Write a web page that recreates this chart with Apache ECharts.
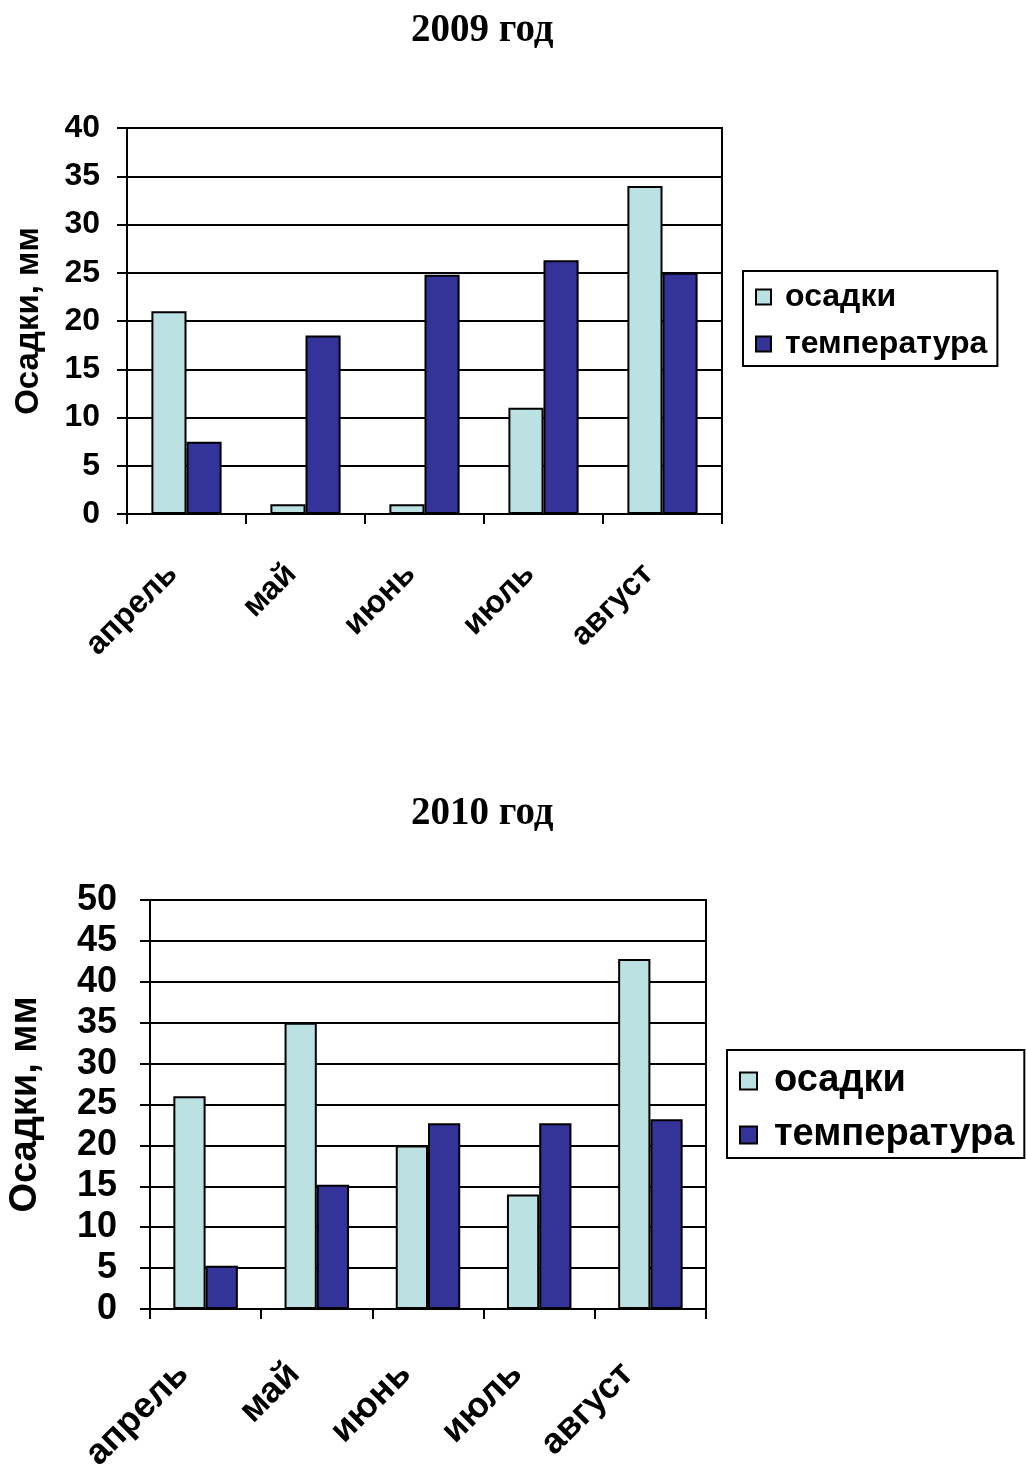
<!DOCTYPE html>
<html>
<head>
<meta charset="utf-8">
<script src="https://cdn.jsdelivr.net/npm/echarts@6/dist/echarts.min.js"></script>
<style>
  html, body { margin: 0; padding: 0; background: #fff; }
  #chart { width: 1026px; height: 1466px; }
</style>
</head>
<body>
<div id="chart"></div>
<script>
// Months shown on both charts
const months = ['апрель', 'май', 'июнь', 'июль', 'август'];

// 2009: precipitation (mm) and temperature
const precip2009 = [21, 1, 1, 11, 34];
const temp2009 = [7.5, 18.5, 24.8, 26.3, 25];

// 2010: precipitation (mm) and temperature
const precip2010 = [26, 35, 20, 14, 42.8];
const temp2010 = [5.3, 15.2, 22.7, 22.7, 23.2];

// Value axis ranges
const yMax2009 = 40;
const yMax2010 = 50;
const yStep = 5;

const FONT = '"Liberation Sans", Arial, sans-serif';
const SERIF = '"Liberation Serif", "Times New Roman", serif';
const LIGHT = '#BCE1E3';
const DARK = '#333399';

function xAxisFor(gridIndex, size, margin, shift) {
  return {
    type: 'category', gridIndex, data: months,
    axisLine: { lineStyle: { color: '#000', width: 2 } },
    axisTick: { show: true, length: 10, lineStyle: { color: '#000', width: 2 } },
    axisLabel: {
      rotate: 45, margin, color: '#000', fontFamily: FONT, fontWeight: 'bold', fontSize: size,
      padding: [0, shift, 0, 0]
    }
  };
}

function yAxisFor(gridIndex, max, size, margin, nameSize, nameGap) {
  return {
    type: 'value', gridIndex, min: 0, max, interval: yStep,
    name: 'Осадки, мм', nameLocation: 'middle', nameGap, nameRotate: 90,
    nameTextStyle: { color: '#000', fontFamily: FONT, fontWeight: 'bold', fontSize: nameSize },
    axisLine: { show: true, lineStyle: { color: '#000', width: 2 } },
    axisTick: { show: true, length: 10, lineStyle: { color: '#000', width: 2 } },
    splitLine: { show: true, lineStyle: { color: '#000', width: 2 } },
    axisLabel: { margin, color: '#000', fontFamily: FONT, fontWeight: 'bold', fontSize: size }
  };
}

function barSeries(name, data, color, idx, gap) {
  return {
    type: 'bar', name, data, xAxisIndex: idx, yAxisIndex: idx,
    barGap: '0%', barCategoryGap: gap,
    itemStyle: { color, borderColor: '#000', borderWidth: 2 },
    emphasis: { disabled: true },
    animation: false
  };
}

function legendFor(left, top, size, itemSize, gap, padding, textPad) {
  return {
    orient: 'vertical', left, top,
    data: ['осадки', 'температура'],
    icon: 'rect', itemWidth: itemSize, itemHeight: itemSize, itemGap: gap,
    borderColor: '#000', borderWidth: 2, padding,
    textStyle: { color: '#000', fontFamily: FONT, fontWeight: 'bold', fontSize: size, padding: [0, 0, 0, textPad] }
  };
}

function gridFor(left, top, width, height) {
  return {
    left, top, width, height, show: true, borderColor: '#000', borderWidth: 2,
    containLabel: false, outerBoundsMode: 'none'
  };
}

const titleStyle = { fontFamily: SERIF, fontWeight: 'bold', fontSize: 39, color: '#000' };

const chart = echarts.init(document.getElementById('chart'), null, { renderer: 'canvas' });
chart.setOption({
  backgroundColor: '#fff',
  animation: false,
  title: [
    { text: '2009 год', left: 406, top: 6, textStyle: titleStyle },
    { text: '2010 год', left: 406, top: 789, textStyle: titleStyle }
  ],
  legend: [
    legendFor(743, 271, 32, 15, 15, [10, 10, 6, 12], 9),
    legendFor(727, 1050, 38, 17, 16, [12, 10, 4, 12], 12)
  ],
  grid: [
    gridFor(127, 128, 595, 386),
    gridFor(150, 900, 556, 409)
  ],
  xAxis: [xAxisFor(0, 32, 41, 20), xAxisFor(1, 36, 37, 32)],
  yAxis: [yAxisFor(0, yMax2009, 32, 27, 33, 82), yAxisFor(1, yMax2010, 36, 33, 38, 105)],
  series: [
    barSeries('осадки', precip2009, LIGHT, 0, '41%'),
    barSeries('температура', temp2009, DARK, 0, '41%'),
    barSeries('осадки', precip2010, LIGHT, 1, '42%'),
    barSeries('температура', temp2010, DARK, 1, '42%')
  ]
});
</script>
</body>
</html>
